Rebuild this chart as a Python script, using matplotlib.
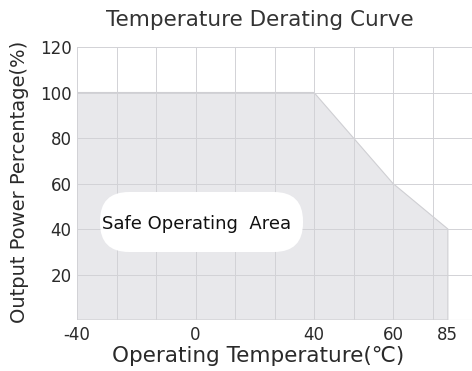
import numpy as np
import matplotlib
matplotlib.use("Agg")
import matplotlib.pyplot as plt
from matplotlib.patches import FancyBboxPatch
from matplotlib.ticker import FixedLocator

# derating curve: temperature (C) vs output power (%)
temps = [-40, 40, 50, 60, 85]
power = [100, 100, 80, 60, 40]

xtick_temps = [-40, 0, 40, 60, 85]
xtick_labels = ["-40", "0", "40", "60", "85"]
yticks = [20, 40, 60, 80, 100, 120]

# the x axis is not linear in the original, piecewise-linear scale
T_KNOTS = [-1000, -40, 0, 40, 60, 96, 1000]
P_KNOTS = [-72.0, 0, 3, 6, 8, 10, 60.22]


def fwd(t):
    return np.interp(t, T_KNOTS, P_KNOTS)


def inv(p):
    return np.interp(p, P_KNOTS, T_KNOTS)


plt.rcParams['font.family'] = ['DejaVu Sans']
txt = '#2a2a2a'
gridc = '#d2d2d6'

fig = plt.figure(figsize=(4.72, 3.71), dpi=100)
ax = fig.add_axes([77 / 472, 51 / 371, 395 / 472, 273 / 371])
ax.set_xscale('function', functions=(fwd, inv))
ax.set_xlim(-40, 96)
ax.set_ylim(0, 120)

# shaded safe area
xs = [temps[0]] + temps + [temps[-1]]
ys = [0] + power + [0]
ax.fill(xs, ys, facecolor='#e8e8eb', edgecolor='#cfcfd3', lw=0.8, zorder=0.3)

ax.set_xticks(xtick_temps)
ax.set_xticklabels(xtick_labels)
ax.xaxis.remove_overlapping_locs = False
ax.xaxis.set_minor_locator(FixedLocator(inv(np.arange(0, 11))))
ax.set_yticks(yticks)
ax.tick_params(which='both', length=0, labelsize=12, colors=txt, pad=4)
ax.grid(True, which='minor', axis='x', color=gridc, lw=0.7)
ax.grid(True, which='major', axis='y', color=gridc, lw=0.7)
ax.set_axisbelow(True)
for s in ax.spines.values():
    s.set_visible(False)
ax.axhline(0, color=gridc, lw=0.8, zorder=0.5)

# white pill with the label
pill = FancyBboxPatch((1.00, 1.19), 2.03, 0.60,
                      boxstyle='round,pad=0,rounding_size=0.29',
                      transform=fig.dpi_scale_trans, fc='white', ec='none',
                      zorder=2)
ax.add_patch(pill)
fig.text(197 / 472, 1 - 224 / 371, 'Safe Operating  Area', ha='center',
         va='center', fontsize=13, color='#111111', zorder=3)

fig.text(260 / 472, 1 - 20 / 371, 'Temperature Derating Curve', ha='center',
         va='center', fontsize=15.5, color='#333333')
fig.text(258 / 472, 1 - 356 / 371, 'Operating Temperature(\u2103)', ha='center',
         va='center', fontsize=15.5, color=txt)
fig.text(20 / 472, 1 - 182 / 371, 'Output Power Percentage(%)', ha='center',
         va='center', rotation=90, fontsize=14, color=txt)

fig.savefig('out.png', dpi=100)
